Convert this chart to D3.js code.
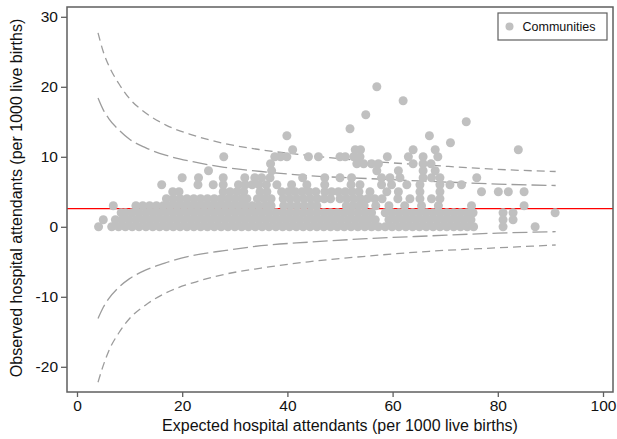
<!DOCTYPE html>
<html>
<head>
<meta charset="utf-8">
<script src="https://cdn.jsdelivr.net/npm/d3@7"></script>
<style>
  body { margin: 0; background: #fff; }
  svg { display: block; font-family: "Liberation Sans", Arial, sans-serif; }
</style>
</head>
<body>
<div id="chart"></div>
<script>
// observed rate levels (rows of dots) and the expected rates of the communities on each row
const observedLevels = [0, 1, 2, 3, 4, 5, 6, 7, 8, 9, 10, 11, 12, 13, 14, 15, 16, 18, 20];
const expectedByLevel = [
  [4.1, 6.6, 7.9, 9.2, 10.5, 11.8, 13.1, 14.4, 15.7, 17.0, 18.3, 19.6, 20.9, 22.2, 23.5, 24.8, 26.1, 27.4, 28.7, 30.0, 31.3, 32.6, 33.9, 35.2, 36.5, 37.8, 39.1, 40.4, 41.7, 43.0, 44.3, 45.6, 46.9, 48.2, 49.5, 50.8, 52.1, 53.4, 54.7, 56.0, 57.3, 58.6, 59.9, 61.2, 62.5, 63.8, 65.1, 66.4, 67.7, 69.0, 70.3, 71.6, 72.9, 74.2, 75.4, 81.0, 87.1],
  [5.0, 7.3, 8.6, 9.9, 11.2, 12.5, 13.8, 15.1, 16.4, 17.7, 19.0, 20.3, 21.6, 22.9, 24.2, 25.5, 26.8, 28.1, 29.4, 30.7, 32.0, 33.3, 34.6, 35.9, 37.2, 38.5, 39.8, 41.1, 42.4, 43.7, 45.0, 46.3, 47.6, 48.9, 50.2, 51.5, 52.8, 54.1, 55.4, 56.7, 59.3, 60.6, 61.9, 63.2, 64.5, 65.8, 67.1, 68.4, 69.7, 71.0, 72.3, 73.6, 74.9, 81.0, 82.9],
  [8.4, 9.2, 10.5, 11.8, 13.1, 14.4, 15.7, 17.0, 18.3, 19.6, 20.9, 22.2, 23.5, 24.8, 26.1, 27.4, 28.7, 30.0, 31.3, 32.6, 33.9, 35.2, 36.5, 37.8, 39.1, 40.4, 41.7, 43.0, 44.3, 45.6, 46.9, 48.2, 49.5, 50.8, 52.1, 53.4, 54.7, 56.0, 58.6, 59.9, 61.2, 62.5, 63.8, 65.1, 66.4, 67.7, 69.0, 70.3, 71.6, 72.9, 74.2, 75.3, 81.0, 82.9, 90.9],
  [6.9, 11.2, 12.5, 13.8, 15.1, 16.4, 17.7, 19.0, 20.3, 21.6, 22.9, 24.2, 25.5, 26.8, 28.1, 29.4, 30.7, 32.0, 33.3, 34.6, 35.9, 36.9, 39.3, 40.6, 41.9, 43.2, 44.5, 45.6, 51.2, 52.4, 53.6, 54.6, 56.8, 59.3, 62.3, 65.5, 68.7, 75.0, 85.0],
  [17.0, 18.3, 19.6, 20.9, 22.2, 23.5, 24.8, 26.1, 27.4, 28.7, 30.0, 31.3, 32.3, 34.3, 35.6, 36.9, 39.2, 40.5, 41.8, 43.1, 44.4, 45.7, 47.0, 48.2, 50.0, 51.3, 52.6, 53.9, 55.2, 56.6, 58.0, 61.0, 63.3, 65.2, 67.4, 69.0],
  [18.2, 19.4, 27.8, 29.1, 30.4, 31.7, 34.8, 36.1, 38.9, 40.2, 41.5, 42.8, 44.1, 45.4, 47.1, 48.4, 49.7, 51.0, 52.3, 53.6, 55.7, 58.9, 61.1, 65.2, 69.0, 76.9, 80.1, 82.0, 85.0],
  [16.1, 23.0, 25.9, 27.8, 30.7, 32.0, 33.3, 34.6, 36.0, 38.0, 40.8, 43.7, 47.1, 52.1, 53.8, 57.9, 59.8, 62.7, 65.2, 69.0, 70.9, 73.1],
  [20.0, 23.1, 27.8, 31.9, 33.8, 35.1, 36.7, 42.9, 47.1, 50.0, 52.2, 57.9, 59.5, 61.4, 65.8, 67.4, 69.0, 76.0],
  [25.0, 37.0, 57.0, 61.1, 65.8, 68.1],
  [36.8, 53.2, 54.5, 56.0, 57.3, 63.9, 65.8, 67.3],
  [27.9, 37.6, 38.7, 39.9, 44.0, 45.9, 50.0, 51.0, 52.6, 53.8, 59.0, 63.0, 65.8, 68.6],
  [41.0, 52.9, 53.9, 63.9, 68.1, 83.9],
  [71.0],
  [39.9, 67.0],
  [51.9],
  [74.0],
  [54.9],
  [62.0],
  [57.0]
];

// funnel control limits
const funnelExpected = [4, 5, 6, 8, 10, 13, 17, 22, 28, 35, 44, 55, 67, 80, 91];
const upper998 = [27.7, 25.0, 23.1, 20.4, 18.3, 16.3, 14.5, 13.1, 11.9, 11.0, 10.2, 9.4, 8.8, 8.2, 7.9];
const upper95 = [18.4, 16.7, 15.5, 13.8, 12.5, 11.3, 10.2, 9.3, 8.5, 7.9, 7.3, 6.9, 6.5, 6.1, 5.9];
const lower95 = [-13.1, -11.5, -10.3, -8.6, -7.4, -6.2, -5.1, -4.1, -3.4, -2.7, -2.2, -1.7, -1.3, -0.9, -0.7];
const lower998 = [-22.2, -19.8, -17.8, -15.1, -13.1, -11.2, -9.4, -8.0, -6.8, -5.9, -5.0, -4.2, -3.5, -3.0, -2.6];
const overallRate = 2.6;

const xTicks = [0, 20, 40, 60, 80, 100];
const yTicks = [-20, -10, 0, 10, 20, 30];

const width = 617;
const height = 439;
const margin = { top: 7, right: 4, bottom: 47, left: 67 };

const svg = d3.select('#chart').append('svg')
  .attr('width', width)
  .attr('height', height);

const xScale = d3.scaleLinear().domain([-1.9, 101.9]).range([margin.left, width - margin.right]);
const yScale = d3.scaleLinear().domain([-23.6, 31.4]).range([height - margin.bottom, margin.top]);

const axisColor = '#5f5f5f';

svg.append('clipPath').attr('id', 'plot-clip')
  .append('rect')
  .attr('x', margin.left).attr('y', margin.top)
  .attr('width', width - margin.left - margin.right)
  .attr('height', height - margin.top - margin.bottom);

const plot = svg.append('g').attr('clip-path', 'url(#plot-clip)');

// mean line
plot.append('line')
  .attr('x1', margin.left).attr('x2', width - margin.right)
  .attr('y1', yScale(overallRate)).attr('y2', yScale(overallRate))
  .attr('stroke', '#ff0000')
  .attr('stroke-width', 1.2);

// funnel limits
const line = d3.line()
  .x((d) => xScale(d[0]))
  .y((d) => yScale(d[1]))
  .curve(d3.curveMonotoneX);

const limits = [
  { values: upper998, dash: '8,5' },
  { values: upper95, dash: '15,5' },
  { values: lower95, dash: '15,5' },
  { values: lower998, dash: '8,5' },
];

for (let lim of limits) {
  plot.append('path')
    .datum(funnelExpected.map((x, i) => [x, lim.values[i]]))
    .attr('d', line)
    .attr('fill', 'none')
    .attr('stroke', '#9c9c9c')
    .attr('stroke-width', 1.3)
    .attr('stroke-dasharray', lim.dash);
}

// communities
const points = observedLevels.flatMap((y, i) => expectedByLevel[i].map((x) => ({ x, y })));

plot.append('g')
  .selectAll('circle')
  .data(points)
  .join('circle')
  .attr('cx', (d) => xScale(d.x))
  .attr('cy', (d) => yScale(d.y))
  .attr('r', 4.5)
  .attr('fill', '#c0c0c0');

// frame
svg.append('rect')
  .attr('x', margin.left).attr('y', margin.top)
  .attr('width', width - margin.left - margin.right)
  .attr('height', height - margin.top - margin.bottom)
  .attr('fill', 'none')
  .attr('stroke', axisColor)
  .attr('stroke-width', 1.5);

// axes
const xAxis = svg.append('g')
  .attr('transform', `translate(0, ${height - margin.bottom})`)
  .call(d3.axisBottom(xScale).tickValues(xTicks).tickSize(5).tickPadding(3).tickFormat((d) => String(d)));

const yAxis = svg.append('g')
  .attr('transform', `translate(${margin.left}, 0)`)
  .call(d3.axisLeft(yScale).tickValues(yTicks).tickSize(6).tickPadding(3).tickFormat((d) => String(d)));

for (let ax of [xAxis, yAxis]) {
  ax.select('.domain').remove();
  ax.selectAll('line').attr('stroke', axisColor).attr('stroke-width', 1.3);
  ax.selectAll('text')
    .attr('fill', '#111')
    .style('font-size', '15.5px')
    .style('font-family', '"Liberation Sans", Arial, sans-serif');
}

// axis titles
svg.append('text')
  .attr('x', 340)
  .attr('y', 431)
  .attr('text-anchor', 'middle')
  .attr('fill', '#111')
  .style('font-size', '16px')
  .text('Expected hospital attendants (per 1000 live births)');

svg.append('text')
  .attr('transform', 'translate(21.5, 198) rotate(-90)')
  .attr('text-anchor', 'middle')
  .attr('fill', '#111')
  .style('font-size', '16px')
  .text('Observed hospital attendants (per 1000 live births)');

// legend
const legend = svg.append('g');
legend.append('rect')
  .attr('x', 498).attr('y', 13)
  .attr('width', 109).attr('height', 27)
  .attr('fill', '#fff')
  .attr('stroke', axisColor)
  .attr('stroke-width', 1.2);
legend.append('circle')
  .attr('cx', 509.5).attr('cy', 26.5)
  .attr('r', 4)
  .attr('fill', '#c0c0c0');
legend.append('text')
  .attr('x', 522.5).attr('y', 31)
  .attr('fill', '#111')
  .style('font-size', '12.5px')
  .text('Communities');
</script>
</body>
</html>
